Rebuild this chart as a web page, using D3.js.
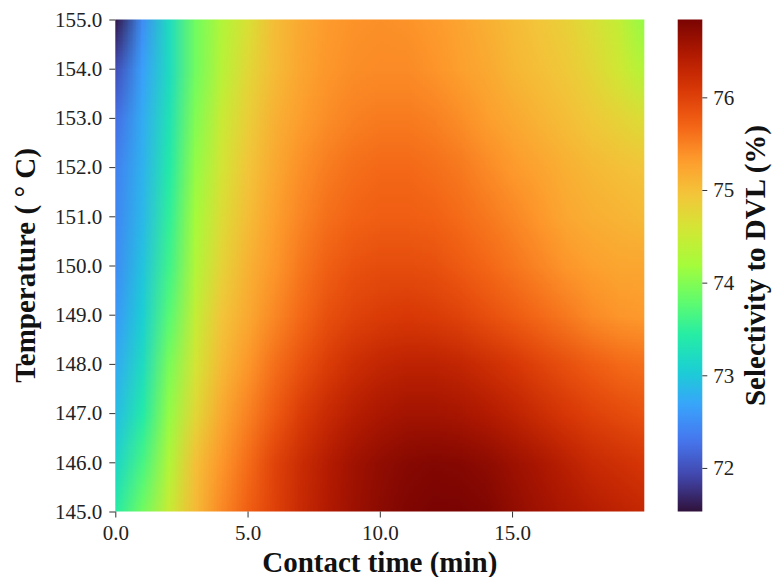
<!DOCTYPE html>
<html>
<head>
<meta charset="utf-8">
<script src="https://cdn.jsdelivr.net/npm/d3@7"></script>
<style>
  html, body { margin: 0; padding: 0; background: #fff; }
  svg { display: block; font-family: "Liberation Serif", "Times New Roman", "DejaVu Serif", serif; }
  .tick text { font-size: 21px; fill: #222; }
  .tick line { stroke: #333; }
  .axis-title { font-size: 29px; font-weight: bold; fill: #111; }
</style>
</head>
<body>
<div id="chart"></div>
<script>
// grid: columns = contact time, rows = temperature (top row first)
const contactTime = [0, 1, 2, 3, 4, 5, 6, 7, 8, 9, 10, 11, 12, 13, 14, 15, 16, 17, 18, 19, 20];
const temperature = [155, 154, 153, 152, 151, 150, 149, 148, 147, 146, 145];
const selectivity = [
  [71.6, 72.5, 73.2, 73.9, 74.3, 74.65, 75.02, 75.2, 75.32, 75.38, 75.4, 75.38, 75.32, 75.24, 75.14, 75.03, 74.94, 74.83, 74.66, 74.45, 74.1],
  [72.0, 72.65, 73.2, 73.9, 74.35, 74.75, 75.03, 75.23, 75.35, 75.41, 75.43, 75.43, 75.37, 75.28, 75.2, 75.08, 75.0, 74.91, 74.76, 74.56, 74.3],
  [72.25, 72.75, 73.3, 74.0, 74.5, 74.85, 75.13, 75.3, 75.42, 75.5, 75.54, 75.54, 75.5, 75.41, 75.3, 75.2, 75.1, 75.01, 74.91, 74.8, 74.68],
  [72.4, 72.8, 73.4, 74.1, 74.6, 74.95, 75.2, 75.4, 75.53, 75.62, 75.67, 75.67, 75.62, 75.55, 75.44, 75.33, 75.24, 75.14, 75.06, 75.0, 74.95],
  [72.45, 72.85, 73.5, 74.2, 74.7, 75.02, 75.28, 75.47, 75.62, 75.7, 75.75, 75.75, 75.72, 75.65, 75.56, 75.46, 75.34, 75.22, 75.15, 75.1, 75.05],
  [72.5, 72.95, 73.6, 74.3, 74.8, 75.12, 75.35, 75.57, 75.74, 75.85, 75.9, 75.9, 75.87, 75.78, 75.68, 75.58, 75.47, 75.36, 75.28, 75.23, 75.23],
  [72.6, 73.05, 73.75, 74.45, 74.95, 75.2, 75.45, 75.67, 75.87, 75.98, 76.05, 76.08, 76.05, 75.98, 75.88, 75.77, 75.66, 75.55, 75.43, 75.36, 75.32],
  [72.75, 73.2, 73.95, 74.6, 75.05, 75.35, 75.62, 75.85, 76.05, 76.2, 76.3, 76.35, 76.35, 76.3, 76.2, 76.1, 75.98, 75.87, 75.76, 75.67, 75.62],
  [72.9, 73.4, 74.1, 74.75, 75.2, 75.5, 75.78, 76.05, 76.25, 76.4, 76.5, 76.56, 76.56, 76.52, 76.45, 76.35, 76.22, 76.1, 76.0, 75.92, 75.85],
  [73.15, 73.65, 74.3, 75.0, 75.35, 75.65, 75.98, 76.22, 76.42, 76.58, 76.68, 76.75, 76.78, 76.76, 76.7, 76.6, 76.5, 76.38, 76.25, 76.18, 76.1],
  [73.45, 73.9, 74.5, 75.05, 75.45, 75.75, 76.0, 76.25, 76.45, 76.6, 76.72, 76.8, 76.84, 76.84, 76.8, 76.68, 76.58, 76.5, 76.42, 76.35, 76.28]
];

const xTicks = [0, 5, 10, 15];
const yTicks = [145, 146, 147, 148, 149, 150, 151, 152, 153, 154, 155];
const colorTicks = [72, 73, 74, 75, 76];
const colorDomain = [71.53, 76.84];

// matplotlib "turbo", sampled at 15 even steps
const turboStops = ['#30123b', '#4145ab', '#4675ed', '#39a2fc', '#1bcfd4', '#24eca6', '#61fc6c', '#a4fc3b',
  '#d1e834', '#f3c63a', '#fe9b2d', '#f36315', '#d93806', '#b11901', '#7a0402'];

const width = 772;
const height = 577;
const plot = { left: 115.3, right: 644.3, top: 19.5, bottom: 511.5 };
const bar = { left: 677.7, right: 702.3 };

const turbo = d3.piecewise(d3.interpolateRgb, turboStops);
const color = d3.scaleSequential(turbo).domain(colorDomain).clamp(true);

const x = d3.scaleLinear().domain([0, 20]).range([plot.left, plot.right]);
const y = d3.scaleLinear().domain([145, 155]).range([plot.bottom, plot.top]);
const cy = d3.scaleLinear().domain(colorDomain).range([plot.bottom, plot.top]);

const svg = d3.select('#chart').append('svg')
  .attr('width', width)
  .attr('height', height)
  .attr('viewBox', `0 0 ${width} ${height}`);

// heatmap: one pixel per grid point, upscaled with smoothing so pixel centres sit on the grid
const nx = contactTime.length;
const ny = temperature.length;
const src = document.createElement('canvas');
src.width = nx;
src.height = ny;
const sctx = src.getContext('2d');
const imgData = sctx.createImageData(nx, ny);
selectivity.forEach((row, j) => {
  row.forEach((v, i) => {
    const c = d3.rgb(color(v));
    const k = (j * nx + i) * 4;
    imgData.data[k] = c.r;
    imgData.data[k + 1] = c.g;
    imgData.data[k + 2] = c.b;
    imgData.data[k + 3] = 255;
  });
});
sctx.putImageData(imgData, 0, 0);

const iw = Math.round(plot.right - plot.left);
const ih = Math.round(plot.bottom - plot.top);
const big = document.createElement('canvas');
big.width = iw;
big.height = ih;
const bctx = big.getContext('2d');
bctx.imageSmoothingEnabled = true;
bctx.imageSmoothingQuality = 'low';
const cw = iw / (nx - 1);
const ch = ih / (ny - 1);
bctx.drawImage(src, -cw / 2, -ch / 2, cw * nx, ch * ny);

svg.append('image')
  .attr('x', x(contactTime[0]))
  .attr('y', y(temperature[0]))
  .attr('width', x(contactTime[nx - 1]) - x(contactTime[0]))
  .attr('height', y(temperature[ny - 1]) - y(temperature[0]))
  .attr('preserveAspectRatio', 'none')
  .attr('href', big.toDataURL());

// axes
const fmt = d3.format('.1f');
const xAxis = svg.append('g')
  .attr('transform', `translate(0,${plot.bottom})`)
  .call(d3.axisBottom(x).tickValues(xTicks).tickFormat(fmt).tickSize(6).tickPadding(8));
xAxis.select('.domain').remove();

const yAxis = svg.append('g')
  .attr('transform', `translate(${plot.left},0)`)
  .call(d3.axisLeft(y).tickValues(yTicks).tickFormat(fmt).tickSize(6).tickPadding(7));
yAxis.select('.domain').remove();

svg.append('text')
  .attr('class', 'axis-title')
  .attr('x', (plot.left + plot.right) / 2)
  .attr('y', 572)
  .attr('text-anchor', 'middle')
  .text('Contact time (min)');

svg.append('text')
  .attr('class', 'axis-title')
  .attr('transform', `translate(35,${(plot.top + plot.bottom) / 2}) rotate(-90)`)
  .attr('text-anchor', 'middle')
  .text('Temperature ( ° C)');

// colorbar
const defs = svg.append('defs');
const grad = defs.append('linearGradient')
  .attr('id', 'cbar')
  .attr('x1', '0%').attr('y1', '100%')
  .attr('x2', '0%').attr('y2', '0%');
d3.range(0, 1.0001, 0.02).forEach((t) => {
  grad.append('stop')
    .attr('offset', `${t * 100}%`)
    .attr('stop-color', turbo(t));
});

svg.append('rect')
  .attr('x', bar.left)
  .attr('y', plot.top)
  .attr('width', bar.right - bar.left)
  .attr('height', plot.bottom - plot.top)
  .attr('fill', 'url(#cbar)');

const cAxis = svg.append('g')
  .attr('transform', `translate(${bar.right},0)`)
  .call(d3.axisRight(cy).tickValues(colorTicks).tickFormat(d3.format('d')).tickSize(5).tickPadding(6));
cAxis.select('.domain').remove();

// d3 axes put a sans-serif font on their groups; drop it so the page font applies
svg.selectAll('g').attr('font-family', null).attr('font-size', null);

svg.append('text')
  .attr('class', 'axis-title')
  .attr('transform', `translate(765,${(plot.top + plot.bottom) / 2}) rotate(-90)`)
  .attr('text-anchor', 'middle')
  .text('Selectivity to DVL (%)');
</script>
</body>
</html>
